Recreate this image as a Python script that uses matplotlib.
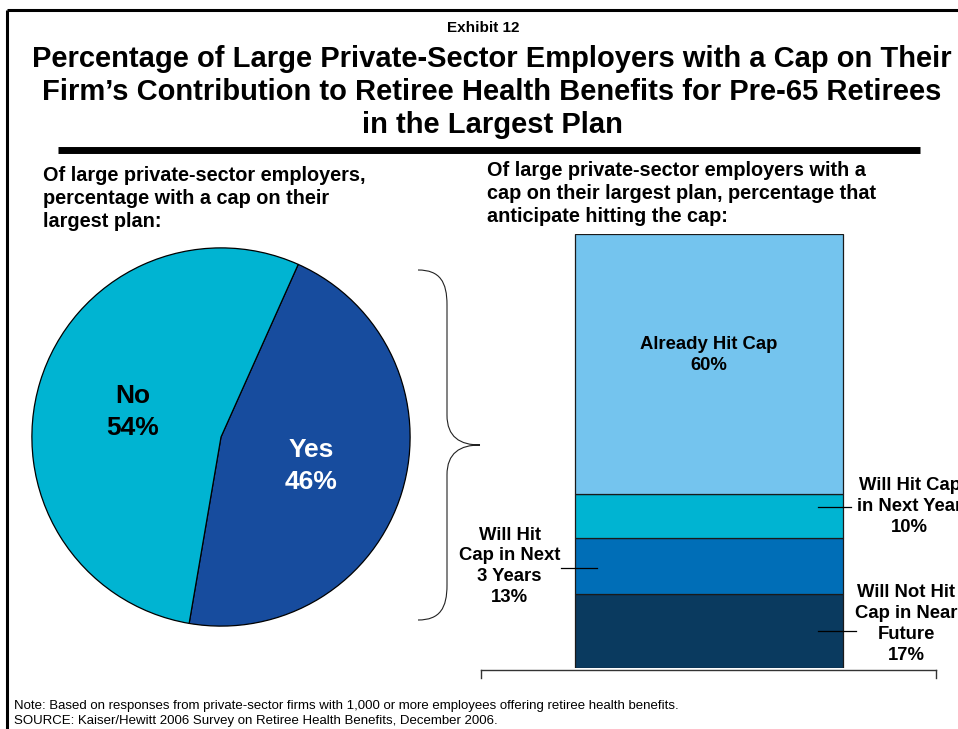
import matplotlib
matplotlib.use("Agg")
import matplotlib.pyplot as plt
from matplotlib.path import Path
from matplotlib.patches import PathPatch
import numpy as np

plt.rcParams['font.family'] = ['Liberation Sans', 'DejaVu Sans']
plt.rcParams['font.weight'] = 'bold'

# Pie: share of employers with a cap on their largest plan
pie_labels = ["Yes", "No"]
pie_values = [46, 54]
pie_colors = ["#174C9E", "#00B4D2"]

# Stacked bar: among those with a cap, expectation of hitting it (bottom to top)
bar_labels = ["Will Not Hit\nCap in Near\nFuture", "Will Hit\nCap in Next\n3 Years",
              "Will Hit Cap\nin Next Year", "Already Hit Cap"]
bar_values = [17, 13, 10, 60]
bar_colors = ["#0A3A5F", "#006EB7", "#00B4D2", "#74C4EE"]

title = ("Percentage of Large Private-Sector Employers with a Cap on Their\n"
         "Firm\u2019s Contribution to Retiree Health Benefits for Pre-65 Retirees\n"
         "in the Largest Plan")
left_sub = "Of large private-sector employers,\npercentage with a cap on their\nlargest plan:"
right_sub = ("Of large private-sector employers with a\ncap on their largest plan, percentage that\n"
             "anticipate hitting the cap:")
note = "Note: Based on responses from private-sector firms with 1,000 or more employees offering retiree health benefits."
source = "SOURCE: Kaiser/Hewitt 2006 Survey on Retiree Health Benefits, December 2006."

W, H = 958, 729
fig = plt.figure(figsize=(W / 100, H / 100), dpi=100)

def fig_rect(x0, y0, x1, y1):
    """Convert a pixel box (top-left origin) to a figure-fraction rect."""
    return [x0 / W, 1 - y1 / H, (x1 - x0) / W, (y1 - y0) / H]

# Overlay in pixel coordinates for frame, titles and the brace
bg = fig.add_axes([0, 0, 1, 1])
bg.set_xlim(0, W)
bg.set_ylim(H, 0)
bg.axis("off")

# Frame lines (top and left) and the rule under the title
bg.plot([7, W], [10, 10], color="black", lw=2.2, solid_capstyle="butt")
bg.plot([7, 7], [10, H], color="black", lw=2.2, solid_capstyle="butt")
bg.plot([58, 920], [150, 150], color="black", lw=5, solid_capstyle="butt")

bg.text(483, 28, "Exhibit 12", ha="center", va="center", fontsize=11, fontweight="bold")
bg.text(492, 92, title, ha="center", va="center", fontsize=21, fontweight="bold",
        linespacing=1.24)
bg.text(43, 198.5, left_sub, ha="left", va="center", fontsize=14.3, fontweight="bold",
        linespacing=1.29)
bg.text(487, 193.5, right_sub, ha="left", va="center", fontsize=14.3, fontweight="bold",
        linespacing=1.29)
bg.text(14, 706, note, ha="left", va="center", fontsize=9.5, fontweight="normal")
bg.text(14, 721, source, ha="left", va="center", fontsize=9.5, fontweight="normal")

# Curly brace linking the "Yes" slice to the bar
verts = [(418, 270), (440, 270), (447, 282), (447, 305),
         (447, 415),
         (447, 437), (460, 445), (480, 445),
         (460, 445), (447, 453), (447, 475),
         (447, 585),
         (447, 608), (440, 620), (418, 620)]
codes = [Path.MOVETO, Path.CURVE4, Path.CURVE4, Path.CURVE4,
         Path.LINETO,
         Path.CURVE4, Path.CURVE4, Path.CURVE4,
         Path.CURVE4, Path.CURVE4, Path.CURVE4,
         Path.LINETO,
         Path.CURVE4, Path.CURVE4, Path.CURVE4]
bg.add_patch(PathPatch(Path(verts, codes), facecolor="none", edgecolor="#222222", lw=0.8))

# Pie chart
axp = fig.add_axes(fig_rect(30, 246, 412, 628))
wedges, _ = axp.pie(pie_values, colors=pie_colors, startangle=65.9, counterclock=False,
                    wedgeprops=dict(edgecolor="black", linewidth=0.9))
axp.set_xlim(-1.01, 1.01)
axp.set_ylim(-1.01, 1.01)
axp.set_aspect("equal")
axp.text(-0.465, 0.13, f"{pie_labels[1]}\n{pie_values[1]}%", ha="center", va="center",
         fontsize=19, fontweight="bold", color="black", linespacing=1.42)
axp.text(0.475, -0.155, f"{pie_labels[0]}\n{pie_values[0]}%", ha="center", va="center",
         fontsize=19, fontweight="bold", color="white", linespacing=1.42)

# Stacked bar
axb = fig.add_axes(fig_rect(481, 234, 936, 668))
axb.set_xlim(0, 1)
axb.set_ylim(0, 100)
bottoms = np.concatenate([[0], np.cumsum(bar_values)[:-1]])
bar_x, bar_w = 0.5, 268 / 455
axb.bar([bar_x] * len(bar_values), bar_values, bottom=bottoms, width=bar_w,
        color=bar_colors, edgecolor="#1a1a1a", linewidth=0.9)
axb.axis("off")

# Baseline with end ticks
axb.plot([0, 1], [-0.5, -0.5], color="#333333", lw=1, clip_on=False)
for xe in (0, 1):
    axb.plot([xe, xe], [-0.5, -2.3], color="#333333", lw=1, clip_on=False)

lab_kw = dict(ha="center", va="center", fontsize=13.3, fontweight="bold",
              linespacing=1.3, clip_on=False)
# Label inside the top segment
axb.text(bar_x, 72.2, f"{bar_labels[3]}\n{bar_values[3]}%", **lab_kw)
# Labels outside with leader lines
right_edge = bar_x + bar_w / 2
left_edge = bar_x - bar_w / 2
axb.plot([right_edge - 0.053, right_edge + 0.018], [37, 37], color="black", lw=0.9)
axb.text(0.942, 37.3, f"{bar_labels[2]}\n{bar_values[2]}%", **lab_kw)
axb.plot([left_edge - 0.03, left_edge + 0.05], [23, 23], color="black", lw=0.9)
axb.text(0.063, 23.4, f"{bar_labels[1]}\n{bar_values[1]}%", **lab_kw)
axb.plot([right_edge - 0.053, right_edge + 0.029], [8.5, 8.5], color="black", lw=0.9)
axb.text(0.935, 10.1, f"{bar_labels[0]}\n{bar_values[0]}%", **lab_kw)

fig.savefig("out.png", dpi=100)
